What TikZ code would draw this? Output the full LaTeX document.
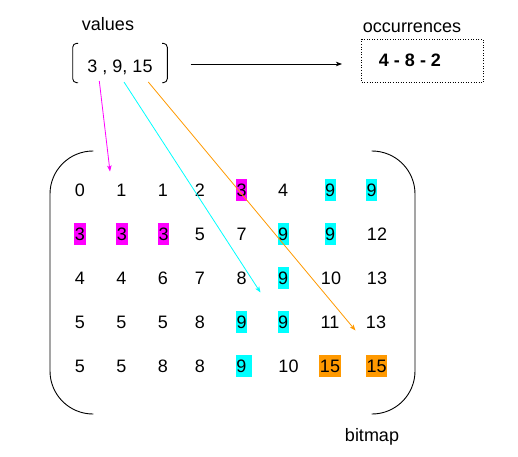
\documentclass[tikz,border=0pt]{standalone}
\usepackage{fontspec}
\setmainfont{Liberation Sans}
\usetikzlibrary{arrows.meta}
\definecolor{mag}{HTML}{FF00FF}
\definecolor{cya}{HTML}{00FFFF}
\definecolor{ora}{HTML}{FF9900}
\begin{document}
\begin{tikzpicture}[x=1pt,y=-1pt,
  txt/.style={font=\fontsize{18}{20}\selectfont, inner sep=0pt},
  cell/.style={txt, text height=13pt, text depth=0pt, inner xsep=0.5pt, inner ysep=4.5pt},
  hlm/.style={cell, fill=mag},
  hlc/.style={cell, fill=cya},
  hlo/.style={cell, fill=ora},
  arr/.style={line width=0.8pt, -{Stealth[length=6pt,width=4.5pt,inset=1.5pt]}},
  brk/.style={line width=0.9pt}
]
\useasboundingbox (0,0) rectangle (518,456);

% top labels
\node[txt, anchor=base] (lvalues) at (108,30.7) {values};
\node[txt, anchor=base] (vals) at (120,72.7) {3 , 9, 15};
\node[txt, anchor=base] (locc) at (412,32.3) {occurrences};
\node[txt, anchor=base, font=\fontsize{18}{20}\selectfont\bfseries] (occ) at (410,66.7) {4 - 8 - 2};
\node[draw, line width=0.7pt, dash pattern=on 1pt off 1.6pt, minimum width=121.6pt, minimum height=43.4pt, inner sep=0pt] (occbox) at (422.5,61) {};
\node[txt, anchor=base] (lbitmap) at (372,441.7) {bitmap};

% small bracket around values
\draw[brk, rounded corners=4pt] (78,43.3) -- (72.7,43.3) -- (72.7,82.7) -- (78,82.7);
\draw[brk, rounded corners=4pt] (162,43.3) -- (167.3,43.3) -- (167.3,82.7) -- (162,82.7);

% large bracket
\draw[brk, rounded corners=43pt] (93.3,151) -- (50,151) -- (50,414) -- (93.3,414);
\draw[brk, rounded corners=43pt] (371.7,151) -- (415,151) -- (415,414) -- (371.7,414);

% grid
% row 1
\node[cell] (r1c1) at (80,190) {0};
\node[cell] (r1c2) at (121.5,190) {1};
\node[cell] (r1c3) at (163,190) {1};
\node[cell] (r1c4) at (200,190) {2};
\node[hlm]  (r1c5) at (241.7,190) {3};
\node[cell] (r1c6) at (283,190) {4};
\node[hlc]  (r1c7) at (330,190) {9};
\node[hlc]  (r1c8) at (371.7,190) {9};
% row 2
\node[hlm]  (r2c1) at (80,233.5) {3};
\node[hlm]  (r2c2) at (122,233.5) {3};
\node[hlm]  (r2c3) at (163.7,233.5) {3};
\node[cell] (r2c4) at (200,233.5) {5};
\node[cell] (r2c5) at (241.7,233.5) {7};
\node[hlc]  (r2c6) at (283,233.5) {9};
\node[hlc]  (r2c7) at (330,233.5) {9};
\node[cell] (r2c8) at (377,233.5) {12};
% row 3
\node[cell] (r3c1) at (80,277.5) {4};
\node[cell] (r3c2) at (121.5,277.5) {4};
\node[cell] (r3c3) at (163,277.5) {6};
\node[cell] (r3c4) at (200,277.5) {7};
\node[cell] (r3c5) at (241.7,277.5) {8};
\node[hlc]  (r3c6) at (283,277.5) {9};
\node[cell] (r3c7) at (331,277.5) {10};
\node[cell] (r3c8) at (377,277.5) {13};
% row 4
\node[cell] (r4c1) at (80,321.5) {5};
\node[cell] (r4c2) at (121.5,321.5) {5};
\node[cell] (r4c3) at (163,321.5) {5};
\node[cell] (r4c4) at (200,321.5) {8};
\node[hlc]  (r4c5) at (241.7,321.5) {9};
\node[hlc]  (r4c6) at (283,321.5) {9};
\node[cell] (r4c7) at (330,321.5) {11};
\node[cell] (r4c8) at (376,321.5) {13};
% row 5
\node[cell] (r5c1) at (80,366) {5};
\node[cell] (r5c2) at (121.5,366) {5};
\node[cell] (r5c3) at (163,366) {8};
\node[cell] (r5c4) at (200,366) {8};
\node[hlc]  (r5c5) at (244,366) {9\kern5pt};
\node[cell] (r5c6) at (288.5,366) {10};
\node[hlo]  (r5c7) at (330,366) {15};
\node[hlo]  (r5c8) at (376.7,366) {15};

% arrow endpoints
\coordinate (sblk) at (190.7,64);
\coordinate (eblk) at (342,64);
\coordinate (smag) at (99.3,81);
\coordinate (emag) at (110,171.5);
\coordinate (scya) at (124,82);
\coordinate (ecya) at (260.5,292.5);
\coordinate (sora) at (148.3,82);
\coordinate (eora) at (355.5,330.5);

\draw[arr, black] (sblk) -- (eblk);
\draw[arr, mag] (smag) -- (emag);
\draw[arr, cya] (scya) -- (ecya);
\draw[arr, ora] (sora) -- (eora);
\end{tikzpicture}
\end{document}
